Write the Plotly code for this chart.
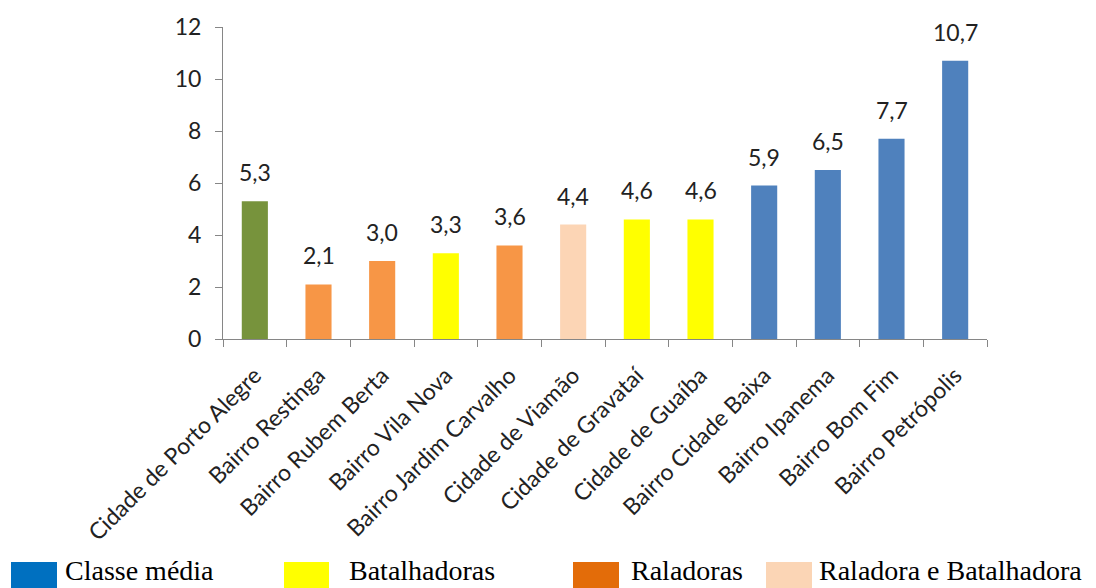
import plotly.graph_objects as go

categories = [
    "Cidade de Porto Alegre", "Bairro Restinga", "Bairro Rubem Berta",
    "Bairro Vila Nova", "Bairro Jardim Carvalho", "Cidade de Viamão",
    "Cidade de Gravataí", "Cidade de Guaíba", "Bairro Cidade Baixa",
    "Bairro Ipanema", "Bairro Bom Fim", "Bairro Petrópolis",
]
values = [5.3, 2.1, 3.0, 3.3, 3.6, 4.4, 4.6, 4.6, 5.9, 6.5, 7.7, 10.7]
bar_colors = ["#77933C", "#F79646", "#F79646", "#FFFF00", "#F79646", "#FCD5B5",
              "#FFFF00", "#FFFF00", "#4F81BD", "#4F81BD", "#4F81BD", "#4F81BD"]
legend_labels = ["Classe média", "Batalhadoras", "Raladoras", "Raladora e Batalhadora"]
legend_colors = ["#0070C0", "#FFFF00", "#E36C09", "#FBD5B5"]
y_ticks = [0, 2, 4, 6, 8, 10, 12]

W, H = 1096, 588
L, R, T, B = 223, 109, 27, 249
PW, PH = W - L - R, H - T - B
FS = 23

def px(x):
    return (x - L) / PW

def py(y):
    return (H - B - y) / PH

labels = [f"{v:.1f}".replace(".", ",") for v in values]

fig = go.Figure()
fig.add_trace(go.Bar(
    x=categories, y=values, marker=dict(color=bar_colors, line=dict(width=0)),
    width=0.41, hoverinfo="skip",
))

annotations = []
for c, v, t in zip(categories, values, labels):
    annotations.append(dict(x=c, y=v, xref="x", yref="y", text=t, showarrow=False,
                            yanchor="bottom", yshift=13,
                            font=dict(family="Lato", size=FS, color="#222222")))

# legend (drawn below the chart)
leg_sq = [(11, 57), (284, 329), (573, 619), (766, 812)]
leg_tx = [63, 347, 629, 817]
shapes = []
for (x0, x1), col, tx, lab in zip(leg_sq, legend_colors, leg_tx, legend_labels):
    shapes.append(dict(type="rect", xref="paper", yref="paper",
                       x0=px(x0), x1=px(x1), y0=py(588), y1=py(562),
                       fillcolor=col, line=dict(width=0)))
    annotations.append(dict(x=px(tx), y=py(588), xref="paper", yref="paper",
                            text=lab, showarrow=False, xanchor="left", yanchor="bottom",
                            font=dict(family="Liberation Serif", size=28, color="#000000")))

fig.update_layout(
    width=W, height=H,
    margin=dict(l=L, r=R, t=T, b=B, autoexpand=False),
    plot_bgcolor="white", paper_bgcolor="white",
    showlegend=False,
    font=dict(family="Lato", size=FS, color="#222222"),
    annotations=annotations, shapes=shapes,
    xaxis=dict(
        type="category", tickangle=-45, tickson="boundaries",
        ticks="outside", ticklen=7, tickcolor="#868686",
        showline=True, linecolor="#868686", linewidth=1,
        showgrid=False, ticklabelstandoff=13, automargin=False,
        tickfont=dict(family="Lato", size=FS, color="#222222"),
        range=[-0.5, len(categories) - 0.5],
    ),
    yaxis=dict(
        range=[0, 12], tickvals=y_ticks, ticks="outside", ticklen=7,
        tickcolor="#868686", showline=True, linecolor="#868686", linewidth=1,
        showgrid=False, zeroline=False, ticklabelstandoff=9, automargin=False,
        tickfont=dict(family="Lato", size=FS, color="#222222"),
    ),
)

fig.write_html("out.html", config={"displayModeBar": False},
               post_script="document.body.style.margin='0';")
